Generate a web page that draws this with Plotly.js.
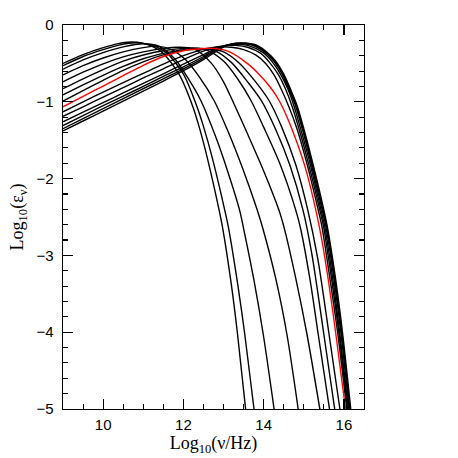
<!DOCTYPE html>
<html>
<head>
<meta charset="utf-8">
<script src="https://cdn.plot.ly/plotly-3.0.1.min.js"></script>
<style>html,body{margin:0;padding:0;background:#fff;}#chart{width:458px;height:458px;}</style>
</head>
<body>
<div id="chart"></div>
<script>
// log10(nu/Hz) and log10(emissivity) for each spectrum
const freqL1 = [9, 9.5, 10, 10.35, 10.7, 11.0, 11.25, 11.5, 11.9, 12.24, 12.4, 12.6, 12.89, 12.97, 13.2, 13.35, 13.55];
const emisL1 = [-0.50, -0.385, -0.295, -0.245, -0.222, -0.24, -0.285, -0.37, -0.65, -1.07, -1.34, -1.74, -2.41, -2.62, -3.4, -4.03, -5.0];
const freqL2 = [9, 9.5, 10, 10.45, 10.8, 11.1, 11.35, 11.6, 12.0, 12.33, 12.5, 12.72, 13.03, 13.12, 13.36, 13.53, 13.76];
const emisL2 = [-0.53, -0.41, -0.32, -0.255, -0.232, -0.25, -0.29, -0.37, -0.64, -1.05, -1.32, -1.73, -2.41, -2.63, -3.4, -4.03, -5.0];
const freqL3 = [9, 9.5, 10, 10.5, 11.0, 11.4, 11.8, 12.1, 12.43, 12.8, 13.1, 13.4, 13.5, 13.75, 13.99, 14.26];
const emisL3 = [-0.575, -0.455, -0.36, -0.285, -0.245, -0.28, -0.45, -0.68, -0.98, -1.45, -1.9, -2.41, -2.65, -3.3, -4.03, -5.0];
const freqL4 = [9, 9.5, 10, 10.5, 11.0, 11.35, 11.7, 12.05, 12.4, 12.76, 13.1, 13.5, 13.84, 13.98, 14.3, 14.58, 14.86];
const emisL4 = [-0.65, -0.53, -0.43, -0.35, -0.295, -0.275, -0.32, -0.45, -0.68, -0.98, -1.37, -1.9, -2.41, -2.65, -3.3, -4.03, -5.0];
const freqL5 = [9, 9.5, 10, 10.5, 11.0, 11.5, 11.9, 12.3, 12.7, 13.0, 13.22, 13.6, 14.0, 14.38, 14.53, 14.8, 15.08, 15.4];
const emisL5 = [-0.74, -0.615, -0.505, -0.415, -0.35, -0.305, -0.29, -0.32, -0.5, -0.74, -0.98, -1.42, -1.9, -2.41, -2.68, -3.3, -4.03, -5.0];
const freqL6 = [9, 9.5, 10, 10.5, 11.0, 11.5, 12.0, 12.25, 12.6, 13.0, 13.35, 13.68, 14.0, 14.4, 14.8, 14.92, 15.15, 15.36, 15.64];
const emisL6 = [-0.83, -0.70, -0.58, -0.47, -0.39, -0.335, -0.305, -0.30, -0.33, -0.47, -0.7, -0.98, -1.33, -1.8, -2.41, -2.65, -3.3, -4.03, -5.0];
const freqL7 = [9, 9.5, 10, 10.5, 11.0, 11.5, 12.0, 12.45, 12.8, 13.2, 13.6, 13.95, 14.3, 14.65, 14.98, 15.2, 15.5, 15.77];
const emisL7 = [-0.91, -0.78, -0.655, -0.54, -0.44, -0.37, -0.32, -0.305, -0.34, -0.49, -0.74, -0.99, -1.36, -1.82, -2.41, -2.98, -4.03, -5.0];
const freqL8 = [9, 9.5, 10, 10.5, 11.0, 11.5, 12.0, 12.3, 12.6, 13.0, 13.4, 13.8, 14.13, 14.45, 14.8, 15.1, 15.35, 15.63, 15.9];
const emisL8 = [-0.99, -0.855, -0.72, -0.59, -0.48, -0.39, -0.33, -0.315, -0.31, -0.35, -0.5, -0.74, -0.98, -1.33, -1.82, -2.41, -3.05, -4.03, -5.0];
const freqRed = [9, 9.5, 10, 10.5, 11, 11.5, 12, 12.4, 12.75, 13.15, 13.59, 13.9, 14.18, 14.38, 14.6, 14.85, 15.05, 15.3, 15.45, 15.62, 15.8, 16.04];
const emisRed = [-1.065, -0.93, -0.795, -0.66, -0.525, -0.41, -0.335, -0.31, -0.305, -0.35, -0.5, -0.65, -0.82, -0.98, -1.22, -1.56, -1.88, -2.41, -2.8, -3.35, -4.03, -5.0];
const freqB1 = [9, 9.5, 10, 10.5, 11, 11.5, 12, 12.4, 12.7, 12.95, 13.2, 13.5, 13.8, 14.05, 14.27, 14.45, 14.64, 14.83, 15.05, 15.36, 15.45, 15.65, 15.85, 16.07];
const emisB1 = [-1.13, -1.0, -0.875, -0.75, -0.63, -0.51, -0.40, -0.33, -0.295, -0.285, -0.29, -0.32, -0.39, -0.5, -0.66, -0.85, -1.08, -1.35, -1.75, -2.41, -2.62, -3.3, -4.03, -5.0];
const freqB2 = [9, 9.5, 10, 10.5, 11, 11.5, 12, 12.45, 12.75, 13.05, 13.3, 13.6, 13.93, 14.15, 14.37, 14.55, 14.71, 14.88, 15.09, 15.4, 15.49, 15.69, 15.88, 16.09];
const emisB2 = [-1.19, -1.065, -0.94, -0.815, -0.69, -0.57, -0.45, -0.35, -0.295, -0.268, -0.265, -0.29, -0.37, -0.49, -0.65, -0.84, -1.06, -1.35, -1.75, -2.41, -2.62, -3.3, -4.03, -5.0];
const freqB3 = [9, 9.5, 10, 10.5, 11, 11.5, 12, 12.5, 12.8, 13.05, 13.3, 13.6, 13.99, 14.2, 14.42, 14.6, 14.76, 14.92, 15.13, 15.43, 15.52, 15.72, 15.9, 16.11];
const emisB3 = [-1.26, -1.135, -1.01, -0.885, -0.76, -0.635, -0.51, -0.385, -0.31, -0.265, -0.25, -0.265, -0.36, -0.47, -0.64, -0.83, -1.06, -1.35, -1.75, -2.41, -2.62, -3.3, -4.03, -5.0];
const freqB4 = [9, 9.5, 10, 10.5, 11, 11.5, 12, 12.5, 12.8, 13.05, 13.3, 13.55, 13.8, 14.03, 14.25, 14.46, 14.64, 14.8, 14.96, 15.16, 15.46, 15.55, 15.75, 15.93, 16.13];
const emisB4 = [-1.31, -1.18, -1.05, -0.925, -0.80, -0.67, -0.545, -0.41, -0.32, -0.265, -0.242, -0.245, -0.28, -0.355, -0.47, -0.64, -0.85, -1.06, -1.35, -1.75, -2.41, -2.62, -3.3, -4.03, -5.0];
const freqB5 = [9, 9.5, 10, 10.5, 11, 11.5, 12, 12.5, 12.8, 13.05, 13.3, 13.55, 13.82, 14.05, 14.27, 14.485, 14.66, 14.82, 14.98, 15.18, 15.48, 15.57, 15.77, 15.95, 16.15];
const emisB5 = [-1.35, -1.22, -1.09, -0.96, -0.83, -0.70, -0.57, -0.43, -0.335, -0.27, -0.24, -0.24, -0.275, -0.355, -0.47, -0.64, -0.85, -1.06, -1.35, -1.75, -2.41, -2.62, -3.3, -4.03, -5.0];
const freqB6 = [9, 9.5, 10, 10.5, 11, 11.5, 12, 12.5, 12.8, 13.05, 13.3, 13.55, 13.85, 14.07, 14.3, 14.5, 14.68, 14.84, 15.0, 15.2, 15.5, 15.59, 15.79, 15.97, 16.17];
const emisB6 = [-1.38, -1.25, -1.12, -0.99, -0.86, -0.73, -0.595, -0.45, -0.35, -0.275, -0.238, -0.235, -0.27, -0.35, -0.47, -0.64, -0.85, -1.06, -1.35, -1.75, -2.41, -2.64, -3.3, -4.03, -5.0];

const xTickVals = [10, 12, 14, 16];
const yTickVals = [0, -1, -2, -3, -4, -5];

const series = [
  [freqL1, emisL1], [freqL2, emisL2], [freqL3, emisL3], [freqL4, emisL4],
  [freqL5, emisL5], [freqL6, emisL6], [freqL7, emisL7], [freqL8, emisL8],
  [freqB1, emisB1], [freqB2, emisB2], [freqB3, emisB3], [freqB4, emisB4],
  [freqB5, emisB5], [freqB6, emisB6], [freqRed, emisRed]
];

const traces = series.map(function (s) {
  const isRed = (s[0] === freqRed);
  return {
    x: s[0], y: s[1], type: 'scatter', mode: 'lines',
    line: {color: isRed ? '#ff0000' : '#000000', width: 1.4, shape: 'spline', smoothing: 0.8},
    hoverinfo: 'skip', showlegend: false
  };
});

const titleFont = {family: 'Liberation Serif, Times New Roman, serif', size: 18, color: '#000'};
const axisCommon = {
  showline: true, linecolor: '#000', linewidth: 1.3, mirror: 'allticks',
  ticks: 'inside', ticklen: 10, tickwidth: 1.2, tickcolor: '#000',
  showgrid: false, zeroline: false,
  tickfont: {family: 'Liberation Sans, Arial, sans-serif', size: 15, color: '#000'}
};

const layout = {
  width: 458, height: 458,
  margin: {l: 63, r: 94, t: 25, b: 49},
  paper_bgcolor: '#fff', plot_bgcolor: '#fff',
  xaxis: Object.assign({}, axisCommon, {
    range: [9, 16.5], tickvals: xTickVals, ticktext: xTickVals.map(String),
    ticklabelstandoff: 2,
    minor: {dtick: 0.5, tick0: 0, ticks: 'inside', ticklen: 5, tickcolor: '#000', tickwidth: 1.1, showgrid: false},
    title: {text: 'Log<sub>10</sub>(ν/Hz)', font: titleFont, standoff: 0}
  }),
  yaxis: Object.assign({}, axisCommon, {
    range: [-5, 0], tickvals: yTickVals,
    ticklabelstandoff: 5,
    minor: {dtick: 0.2, tick0: 0, ticks: 'inside', ticklen: 5, tickcolor: '#000', tickwidth: 1.1, showgrid: false},
    title: {text: 'Log<sub>10</sub>(ε<sub>ν</sub>)', font: titleFont, standoff: 8}
  })
};

Plotly.newPlot('chart', traces, layout, {staticPlot: true, displayModeBar: false});
</script>
</body>
</html>
